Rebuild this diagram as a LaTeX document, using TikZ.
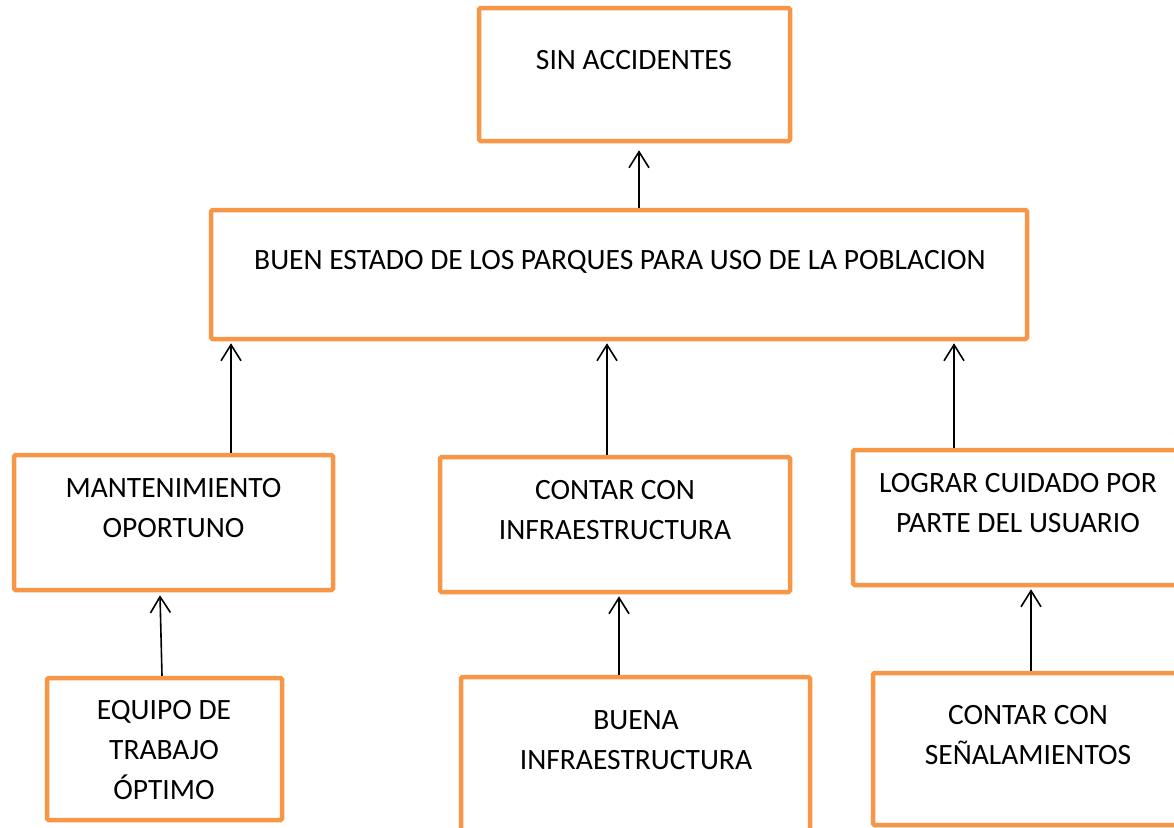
\documentclass[tikz,border=0pt]{standalone}
\usepackage{fontspec}
\setmainfont{Carlito}
\usetikzlibrary{arrows.meta}
\definecolor{boxorange}{HTML}{F79646}
\begin{document}
\begin{tikzpicture}[x=1pt,y=-1pt,
  box/.style={draw=boxorange, line width=4.5pt, rounded corners=1.5pt, inner sep=0pt, fill=none},
  lbl/.style={font=\fontsize{29.5}{40}\selectfont, align=center, anchor=base, inner sep=0pt},
  conn/.style={draw=black, line width=1.6pt, -{Straight Barb[length=16pt,width=20pt]}}]
\useasboundingbox (0,0) rectangle (1174,827);
\clip (0,0) rectangle (1174,827);
% boxes
\node[box, minimum width=311pt, minimum height=133pt] (sin) at (634.5,74.5) {};
\node[box, minimum width=816pt, minimum height=129pt] (buen) at (619,274.5) {};
\node[box, minimum width=319pt, minimum height=135pt] (mant) at (173.5,522.5) {};
\node[box, minimum width=350pt, minimum height=135pt] (cont) at (615,524.5) {};
\node[box, minimum width=337pt, minimum height=135pt] (log) at (1021.5,517.5) {};
\node[box, minimum width=235pt, minimum height=142pt] (equipo) at (164.5,749) {};
\node[box, minimum width=349pt, minimum height=173pt] (buena) at (635.5,763.5) {};
\node[box, minimum width=317pt, minimum height=152pt] (senal) at (1031.5,749) {};
% texts (base anchor = baseline of the last line)
\node[lbl] (tsin) at (634,69.5) {SIN ACCIDENTES};
\node[lbl] (tbuen) at (620,269.5) {BUEN ESTADO DE LOS PARQUES PARA USO DE LA POBLACION};
\node[lbl] (tmant) at (173.5,537.5) {MANTENIMIENTO\\OPORTUNO};
\node[lbl] (tcont) at (615,539.5) {CONTAR CON\\INFRAESTRUCTURA};
\node[lbl] (tlog) at (1018,532.5) {LOGRAR CUIDADO POR\\PARTE DEL USUARIO};
\node[lbl] (tequipo) at (164,799.5) {EQUIPO DE\\TRABAJO\\ÓPTIMO};
\node[lbl] (tbuena) at (636,769.5) {BUENA\\INFRAESTRUCTURA};
\node[lbl] (tsenal) at (1028,764.5) {CONTAR CON\\SEÑALAMIENTOS};
% connectors
\draw[conn] ([xshift=-2.5pt]equipo.north) -- ([xshift=-13.5pt,yshift=-3pt]mant.south);
\draw[conn] ([xshift=-16.5pt]buena.north) -- ([xshift=4pt,yshift=-2pt]cont.south);
\draw[conn] ([xshift=-0.5pt]senal.north) -- ([xshift=9.5pt,yshift=-2pt]log.south);
\draw[conn] ([xshift=57.5pt]mant.north) -- ([xshift=-388pt,yshift=-2pt]buen.south);
\draw[conn] ([xshift=-8pt]cont.north) -- ([xshift=-12pt,yshift=-2pt]buen.south);
\draw[conn] ([xshift=-67.5pt]log.north) -- ([xshift=335pt,yshift=-2pt]buen.south);
\draw[conn] ([xshift=20pt]buen.north) -- ([xshift=4.5pt,yshift=-7pt]sin.south);
\end{tikzpicture}
\end{document}
